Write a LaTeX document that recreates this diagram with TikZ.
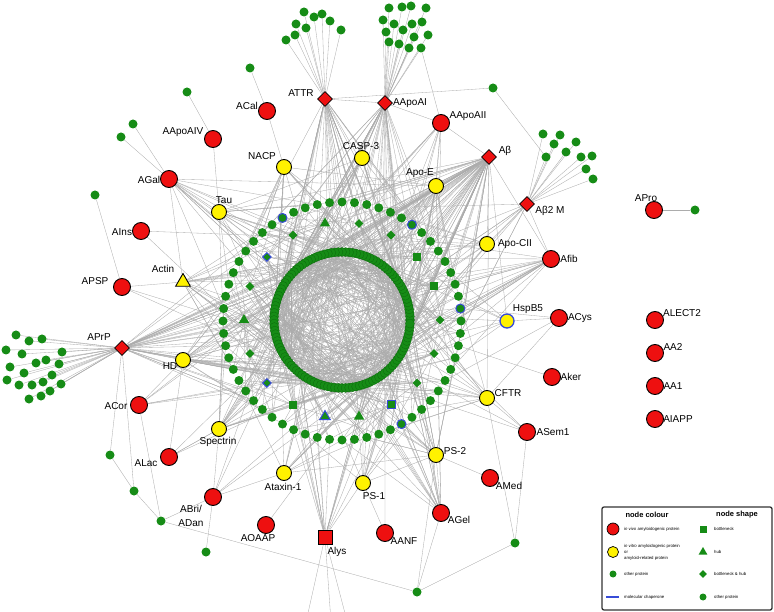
\documentclass[tikz,border=0pt]{standalone}
\usepackage{fontspec}
\setmainfont{Liberation Sans}
\usetikzlibrary{shapes.geometric}
\pgfdeclarelayer{bg}
\pgfsetlayers{bg,main}
\definecolor{pgreen}{RGB}{22,140,22}
\definecolor{dgreen}{RGB}{12,105,12}
\definecolor{pred}{RGB}{238,16,16}
\definecolor{pyellow}{RGB}{255,242,0}
\definecolor{chap}{RGB}{55,75,215}
\definecolor{edgegray}{RGB}{172,172,172}
\newdimen\hxd \newdimen\hyd
\newcommand\hubangle[1]{\pgfextractx{\hxd}{\pgfpointanchor{#1}{center}}\pgfextracty{\hyd}{\pgfpointanchor{#1}{center}}\pgfmathsetmacro\myang{atan2(320+\hyd,\hxd-342)}}
\newcommand\fanC[3]{\hubangle{#1}\foreach \q in {1,...,#2}{\pgfmathtruncatemacro\tg{mod(round((\myang+random(0,#3)-#3/2)/3)+240,120)}\draw[edge] (#1) -- (c\tg);}}
\newcommand\fanR[3]{\hubangle{#1}\foreach \q in {1,...,#2}{\pgfmathtruncatemacro\tg{mod(round((\myang+random(0,#3)-#3/2)/6)+120,60)}\draw[edge] (#1) -- (r\tg);}}
\newcommand\fanM[2]{\foreach \q in {1,...,#2}{\pgfmathtruncatemacro\tg{random(0,17)}\draw[edge] (#1) -- (m\tg);}}
\tikzset{
 edge/.style={draw=edgegray, line width=0.32pt},
 vivo/.style={circle, fill=pred, draw=black, line width=0.9pt, minimum size=17pt, inner sep=0pt},
 vitro/.style={circle, fill=pyellow, draw=black, line width=0.9pt, minimum size=15pt, inner sep=0pt},
 vitrot/.style={regular polygon, regular polygon sides=3, fill=pyellow, draw=black, line width=0.9pt, minimum size=17pt, inner sep=0pt},
 hubd/.style={diamond, fill=pred, draw=black, line width=0.8pt, minimum size=15pt, inner sep=0pt},
 hubsq/.style={rectangle, fill=pred, draw=black, line width=0.9pt, minimum size=14pt, inner sep=0pt},
 other/.style={circle, fill=pgreen, minimum size=9pt, inner sep=0pt},
 otherb/.style={other, draw=chap, line width=1pt},
 ringc/.style={circle, fill=pgreen, draw=dgreen, line width=0.3pt, minimum size=9pt, inner sep=0pt},
 msq/.style={rectangle, fill=pgreen, minimum size=8pt, inner sep=0pt},
 msqb/.style={msq, draw=chap, line width=1pt},
 mtri/.style={regular polygon, regular polygon sides=3, fill=pgreen, minimum size=12pt, inner sep=0pt},
 mtrib/.style={mtri, draw=chap, line width=1pt},
 mdia/.style={diamond, fill=pgreen, minimum size=9pt, inner sep=0pt},
 mdiab/.style={mdia, draw=chap, line width=1pt},
 lbl/.style={font=\fontsize{10}{12}\selectfont, inner sep=0pt},
 legtxt/.style={font=\fontsize{4.3}{6}\selectfont, inner sep=0pt, anchor=west, align=left},
 legttl/.style={font=\bfseries\fontsize{7.5}{9}\selectfont, inner sep=0pt},
}
\begin{document}
\begin{tikzpicture}[x=1pt,y=-1pt]
\useasboundingbox (0,0) rectangle (774,612);
\clip (0,0) rectangle (774,612);
\pgfmathsetseed{11}
% ---------- inner ring ----------
\foreach \k in {0,...,119}{\pgfmathsetmacro\px{342+68*cos(3*\k)}\pgfmathsetmacro\py{320-68*sin(3*\k)}\node[ringc] (c\k) at (\px,\py) {};}
% ---------- middle ring ----------
\foreach \k/\sty in {0/mdia,1/msq,2/msq,3/mdia,4/mdia,5/mtri,6/mdia,7/mdiab,8/mdia,9/mtri,10/mdia,11/mdiab,12/msq,13/mtrib,14/mtri,15/msqb,16/mdia,17/mdia}{\pgfmathsetmacro\px{342+98*cos(20*\k)}\pgfmathsetmacro\py{320-98*sin(20*\k)}\node[\sty] (m\k) at (\px,\py) {};}
% ---------- outer dotted ring ----------
\foreach \k in {0,...,59}{\def\sty{other}\ifnum\k=1 \def\sty{otherb}\fi\ifnum\k=9 \def\sty{otherb}\fi\ifnum\k=20 \def\sty{otherb}\fi\ifnum\k=50 \def\sty{otherb}\fi
 \pgfmathsetmacro\px{342+119*cos(6*\k)}\pgfmathsetmacro\py{321-119*sin(6*\k)}\node[\sty] (r\k) at (\px,\py) {};}
% ---------- red diamonds / hubs ----------
\node[hubd] (ATTR) at (325,99) {};
\node[hubd] (AApoAI) at (385,103) {};
\node[hubd] (Ab) at (489,157) {};
\node[hubd] (AbtwoM) at (527,204) {};
\node[hubd] (APrP) at (122,348) {};
\node[hubsq] (Alys) at (325,537) {};
% ---------- red circles ----------
\node[vivo] (ACal) at (267,111) {};
\node[vivo] (AApoAIV) at (213,139) {};
\node[vivo] (AApoAII) at (441,123) {};
\node[vivo] (AGal) at (169,179) {};
\node[vivo] (AIns) at (141,231) {};
\node[vivo] (APSP) at (122,287) {};
\node[vivo] (Afib) at (551,259) {};
\node[vivo] (APro) at (654,210) {};
\node[vivo] (ACys) at (559,318) {};
\node[vivo] (Aker) at (552,377) {};
\node[vivo] (ASemone) at (527,432) {};
\node[vivo] (ALECT) at (655,320) {};
\node[vivo] (AAtwo) at (655,353) {};
\node[vivo] (AAone) at (655,386) {};
\node[vivo] (AIAPP) at (655,419) {};
\node[vivo] (AMed) at (490,478) {};
\node[vivo] (AGel) at (441,513) {};
\node[vivo] (AANF) at (385,533) {};
\node[vivo] (AOAAP) at (266,525) {};
\node[vivo] (ABri) at (213,497) {};
\node[vivo] (ALac) at (169,457) {};
\node[vivo] (ACor) at (139,405) {};
% ---------- yellow ----------
\node[vitro] (NACP) at (284,167) {};
\node[vitro] (CASP) at (362,158) {};
\node[vitro] (ApoE) at (436,186) {};
\node[vitro] (Tau) at (219,212) {};
\node[vitro] (ApoCII) at (487,244) {};
\node[vitro, draw=chap, line width=1.3pt, minimum size=14pt] (HspB) at (507,321) {};
\node[vitrot] (Actin) at (183,282) {};
\node[vitro] (HD) at (183,360) {};
\node[vitro] (CFTR) at (487,398) {};
\node[vitro] (Spectrin) at (219,429) {};
\node[vitro] (Ataxin) at (284,473) {};
\node[vitro] (PSone) at (363,483) {};
\node[vitro] (PStwo) at (436,455) {};
% ---------- single green dots ----------
\node[other] (g1) at (250,68) {};
\node[other] (g2) at (187,92) {};
\node[other] (g3) at (133,124) {};
\node[other] (g4) at (121,137) {};
\node[other] (g5) at (95,195) {};
\node[other] (g6) at (493,88) {};
\node[other] (g7) at (695,210) {};
\node[other] (g8) at (110,455) {};
\node[other] (g9) at (134,491) {};
\node[other] (g10) at (161,521) {};
\node[other] (g11) at (206,552) {};
\node[other] (g12) at (515,543) {};
\node[other] (g13) at (417,592) {};
\coordinate (off1) at (302,640);
\coordinate (off2) at (333,650);
\coordinate (off3) at (352,640);
% ---------- clusters ----------
\foreach \u/\v [count=\i] in {304/12,322/14,314/17,296/24,330/21,306/28,341/30,295/35,286/40}{\node[other] (at\i) at (\u,\v) {};}
\foreach \u/\v [count=\i] in {389/8,402/7,411/6,426/8,383/20,394/24,412/24,422/22,386/32,403/30,414/37,428/35,389/42,399/44,409/48,421/48}{\node[other] (ai\i) at (\u,\v) {};}
\foreach \u/\v [count=\i] in {543/134,560/135,554/144,576/142,566/152,546/157,581/157,592/156,586/169,593/179}{\node[other] (bm\i) at (\u,\v) {};}
\foreach \u/\v [count=\i] in {16/335,29/341,42/339,6/350,22/354,62/352,10/367,36/363,46/360,59/364,24/373,52/375,7/380,19/385,32/385,43/382,61/384,29/399,41/396,50/391}{\node[other] (pp\i) at (\u,\v) {};}
% ---------- labels ----------
\node[lbl] (lATTR) at (301,93) {ATTR};
\node[lbl] (lAApoAI) at (410,103) {AApoAI};
\node[lbl] (lACal) at (247,106) {ACal};
\node[lbl] (lAApoAIV) at (183,132) {AApoAIV};
\node[lbl] (lAApoAII) at (468,116) {AApoAII};
\node[lbl] (lNACP) at (262,156) {NACP};
\node[lbl] (lCASP) at (361,146) {CASP-3};
\node[lbl] (lAb) at (505,151) {Aβ};
\node[lbl] (lApoE) at (420,173) {Apo-E};
\node[lbl] (lAGal) at (149,180) {AGal};
\node[lbl] (lTau) at (224,200) {Tau};
\node[lbl] (lAbtwoM) at (550,211) {Aβ2 M};
\node[lbl] (lAPro) at (646,198) {APro};
\node[lbl] (lAIns) at (122,232) {AIns};
\node[lbl] (lApoCII) at (515,244) {Apo-CII};
\node[lbl] (lAfib) at (569,259) {Afib};
\node[lbl] (lActin) at (163,269) {Actin};
\node[lbl] (lAPSP) at (95,281) {APSP};
\node[lbl] (lHspB) at (528,309) {HspB5};
\node[lbl] (lALECT) at (682,313) {ALECT2};
\node[lbl] (lACys) at (580,318) {ACys};
\node[lbl] (lAPrP) at (99,337) {APrP};
\node[lbl] (lAAtwo) at (673,347) {AA2};
\node[lbl] (lHD) at (170,366) {HD};
\node[lbl] (lAker) at (571,377) {Aker};
\node[lbl] (lAAone) at (673,386) {AA1};
\node[lbl] (lCFTR) at (508,393) {CFTR};
\node[lbl] (lACor) at (116,406) {ACor};
\node[lbl] (lAIAPP) at (678,419) {AIAPP};
\node[lbl] (lASemone) at (553,432) {ASem1};
\node[lbl] (lSpectrin) at (218,442) {Spectrin};
\node[lbl] (lPStwo) at (455,451) {PS-2};
\node[lbl] (lALac) at (146,463) {ALac};
\node[lbl] (lAMed) at (509,486) {AMed};
\node[lbl] (lAtaxin) at (283,487) {Ataxin-1};
\node[lbl] (lPSone) at (374,496) {PS-1};
\node[lbl, align=center, font=\fontsize{10}{14}\selectfont] (lABri) at (191,516) {ABri/\\ADan};
\node[lbl] (lAGel) at (459,520) {AGel};
\node[lbl] (lAOAAP) at (258,538) {AOAAP};
\node[lbl] (lAANF) at (404,541) {AANF};
\node[lbl] (lAlys) at (337,552) {Alys};
% ---------- legend ----------
\node[draw=black!80, line width=1.3pt, rounded corners=2pt, fill=white, minimum width=170pt, minimum height=103pt, inner sep=0pt] (legend) at (687,558.5) {};
\node[legttl] (lt1) at (647,515) {node colour};
\node[legttl] (lt2) at (737,515) {node shape};
\node[vivo, minimum size=12pt, line width=0.7pt] (lg1) at (613,529) {};
\node[legtxt] (lgt1) at (624,529) {\textit{in vivo} amyloidogenic protein};
\node[vitro, minimum size=11pt, line width=0.7pt] (lg2) at (613,552) {};
\node[legtxt] (lgt2) at (624,552) {\textit{in vitro} amyloidogenic protein\\or\\amyloid-related protein};
\node[other, minimum size=7pt] (lg3) at (613,574) {};
\node[legtxt] (lgt3) at (624,574) {other protein};
\coordinate (lb1) at (606,597); \coordinate (lb2) at (619,597);
\draw[chap, line width=1.3pt] (lb1) -- (lb2);
\node[legtxt] (lgt4) at (624,597) {molecular chaperone};
\node[msq, minimum size=7pt] (ls1) at (703,529) {};
\node[legtxt] (lst1) at (714,529) {bottleneck};
\node[mtri, minimum size=10pt] (ls2) at (703,552) {};
\node[legtxt] (lst2) at (714,552) {hub};
\node[mdia, minimum size=8pt] (ls3) at (703,574) {};
\node[legtxt] (lst3) at (714,574) {bottleneck \& hub};
\node[other, minimum size=7pt] (ls4) at (703,597) {};
\node[legtxt] (lst4) at (714,597) {other protein};
% ---------- edges ----------
\begin{pgfonlayer}{bg}
\fill[white] (0,0) rectangle (774,612);
% inner chords
\foreach \q in {1,...,320}{\pgfmathtruncatemacro\ta{random(0,119)}\pgfmathtruncatemacro\tb{mod(\ta+random(15,105),120)}\draw[edge] (c\ta) -- (c\tb);}
% middle to inner
\foreach \k in {0,...,17}{\foreach \q in {1,...,9}{\pgfmathtruncatemacro\tg{mod(round(20*\k/3)+random(0,80)-40+120,120)}\draw[edge] (m\k) -- (c\tg);}}
% outer to inner / middle
\foreach \k in {0,...,59}{\pgfmathtruncatemacro\tg{mod(2*\k+random(0,40)-20+120,120)}\draw[edge] (r\k) -- (c\tg);
 \pgfmathtruncatemacro\tg{mod(2*\k+random(0,90)-45+120,120)}\draw[edge] (r\k) -- (c\tg);
 \pgfmathtruncatemacro\tg{mod(round(\k*6/20)+random(0,4)-2+18,18)}\draw[edge] (r\k) -- (m\tg);}
% hub fans
\fanC{Ab}{45}{200}\fanR{Ab}{15}{160}\fanM{Ab}{8}
\fanC{ATTR}{22}{180}\fanR{ATTR}{8}{120}\fanM{ATTR}{5}
\fanC{AApoAI}{25}{180}\fanR{AApoAI}{8}{120}\fanM{AApoAI}{5}
\fanC{APrP}{22}{180}\fanR{APrP}{10}{120}\fanM{APrP}{4}
\fanC{ApoE}{15}{160}\fanR{ApoE}{5}{100}
\fanC{CASP}{10}{160}\fanR{CASP}{4}{100}
\fanC{NACP}{10}{160}\fanR{NACP}{6}{100}
\fanC{Tau}{8}{160}\fanR{Tau}{6}{100}
\fanC{Actin}{12}{160}\fanR{Actin}{6}{100}
\fanC{HD}{14}{160}\fanR{HD}{6}{100}
\fanC{Spectrin}{12}{160}\fanR{Spectrin}{6}{100}
\fanC{Ataxin}{8}{140}\fanR{Ataxin}{4}{80}
\fanC{PSone}{8}{140}\fanR{PSone}{4}{80}
\fanC{PStwo}{12}{160}\fanR{PStwo}{6}{100}
\fanC{CFTR}{8}{140}\fanR{CFTR}{5}{100}
\fanC{AGel}{12}{140}\fanR{AGel}{5}{80}
\fanC{Alys}{12}{140}\fanR{Alys}{6}{80}
\fanC{AGal}{8}{140}\fanR{AGal}{4}{80}
\fanC{Afib}{12}{140}\fanR{Afib}{5}{80}
\fanC{AbtwoM}{6}{140}\fanR{AbtwoM}{3}{80}
\fanC{ApoCII}{6}{140}\fanR{ApoCII}{3}{80}
\fanC{AApoAII}{6}{140}\fanR{AApoAII}{3}{80}
\fanC{HspB}{4}{120}\fanR{HspB}{3}{60}
\fanR{ACys}{2}{60}
\fanR{Aker}{1}{40}
\fanC{ASemone}{3}{120}
\fanR{AOAAP}{1}{40}
\fanC{AANF}{1}{60}
\fanC{ALac}{3}{120}
\fanC{ACor}{5}{120}
\fanC{ABri}{4}{120}
\fanR{AIns}{1}{40}
\fanC{APSP}{2}{100}
% clusters
\foreach \i in {1,...,9}{\draw[edge] (ATTR) -- (at\i);}
\foreach \i in {1,...,16}{\draw[edge] (AApoAI) -- (ai\i);}
\foreach \i in {1,...,10}{\draw[edge] (AbtwoM) -- (bm\i);}
\foreach \i in {1,...,20}{\draw[edge] (APrP) -- (pp\i);}
% specific links
\foreach \a/\b in {ATTR/AApoAI, ATTR/g6, g6/bm6, AApoAI/AApoAII, ai16/AApoAII, AApoAII/Ab, AApoAII/ApoE, Ab/ApoE, Ab/ApoCII, Ab/Afib, Ab/HspB, AbtwoM/ApoCII, AbtwoM/Afib, ACal/g1, ACal/NACP, AApoAIV/g2, AApoAIV/Tau, AGal/g3, AGal/g4, AGal/Tau, AGal/Actin, APSP/g5, APSP/Actin, APro/g7, APrP/HD, APrP/g8, APrP/g9, g8/g9, g9/g10, ACor/g10, ABri/g10, ABri/g11, g10/g13, g13/g12, g13/AGel, g13/PStwo, g12/CFTR, g12/ASemone, CFTR/ASemone, HspB/ACys, PStwo/AMed, PStwo/AGel, PSone/PStwo, PSone/AANF, Spectrin/ALac, Spectrin/ABri, Alys/off1, Alys/off2, Alys/off3, APrP/Ab, AGal/ApoE, HD/Ab, Actin/Ab, Tau/Ab, Spectrin/Ab, APrP/Afib, HD/CFTR, AIns/ApoCII, ACor/HD, ALac/HD, ABri/Ataxin, Ataxin/PStwo, NACP/ApoE, CASP/Tau, Ab/CFTR, Afib/HD, ACys/CFTR}{\draw[edge] (\a) -- (\b);}
\end{pgfonlayer}
\end{tikzpicture}
\end{document}
